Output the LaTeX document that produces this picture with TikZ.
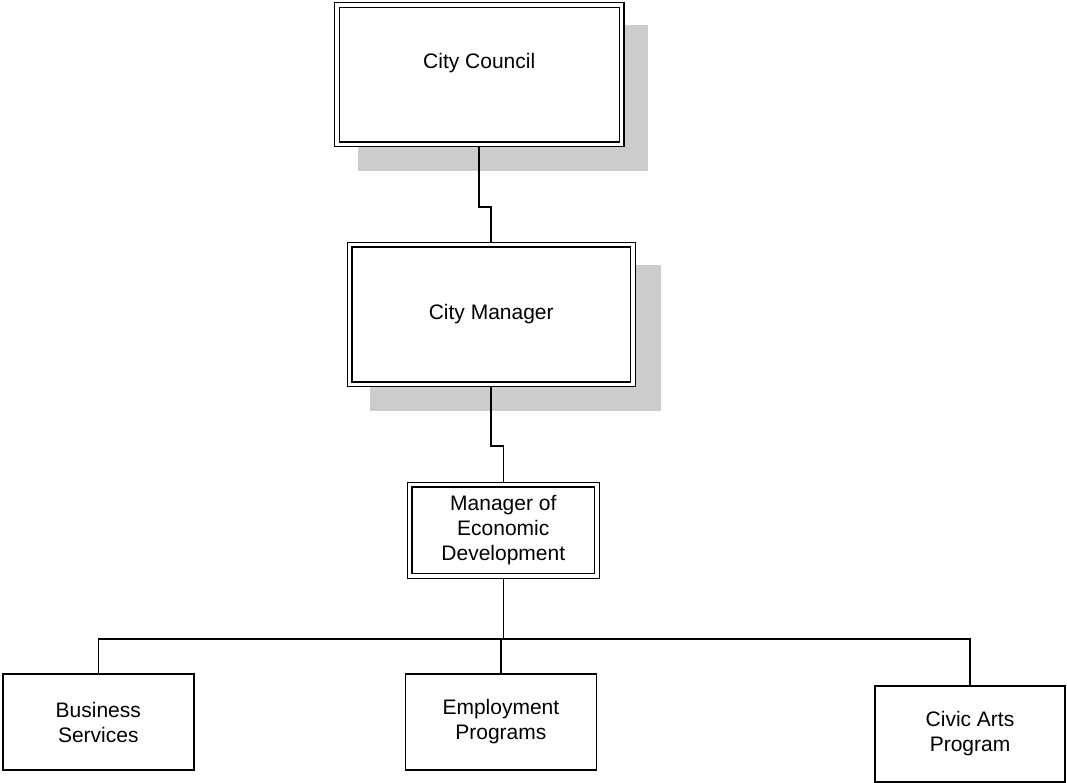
\documentclass[tikz,border=0pt]{standalone}
\usepackage{fontspec}
\setmainfont{Liberation Sans}
\usepackage{tikz}
\usetikzlibrary{backgrounds}
\definecolor{shadowgray}{RGB}{204,204,204}

\begin{document}
\begin{tikzpicture}[x=1pt,y=-1pt,
  every node/.style={font=\fontsize{21}{25}\selectfont, align=center},
  dbox/.style={draw, line width=1.4pt, double, double distance=3.2pt, fill=white, outer sep=3pt, inner sep=0pt},
  sbox/.style={draw, line width=1.6pt, fill=white, minimum width=191pt, minimum height=96pt, inner sep=0pt},
  link/.style={line width=1.6pt}]
\useasboundingbox (0,0) rectangle (1067,783);

% top of the chart
\node [dbox, minimum width=284.5pt, minimum height=139.2pt, text depth=27pt] (council) at (479.25,74.6) {City Council};
\node [dbox, minimum width=283.5pt, minimum height=139.4pt] (manager) at (491.25,314.5) {City Manager};
\node [dbox, minimum width=187.4pt, minimum height=91.4pt] (econ) at (503.3,530.3) {Manager of\\Economic\\Development};

% shadows
\begin{scope}[on background layer]
\fill [shadowgray] ([shift={(23.5,23.5)}]council.north west) rectangle ([shift={(23.5,23.5)}]council.south east);
\fill [shadowgray] ([shift={(23.5,23.5)}]manager.north west) rectangle ([shift={(24.5,23.5)}]manager.south east);
\end{scope}

% programs
\node [sbox] (business) at (98.3,722) {Business\\Services};
\node [sbox] (employment) at (500.85,722) {Employment\\Programs};
\node [sbox, minimum width=190pt] (arts) at (970,734) {Civic Arts\\Program};

\draw [link] (council.south) -- ++(0,60) -| (manager.north);
\draw [link] (manager.south) -- ++(0,59) -| (econ.north);
\draw [link] (econ.south) -- ++(0,60) coordinate (bar);
\draw [link] (business.north) |- (bar) -| (arts.north);
\draw [link] (employment.north) -- (employment.north |- bar);

\end{tikzpicture}
\end{document}
